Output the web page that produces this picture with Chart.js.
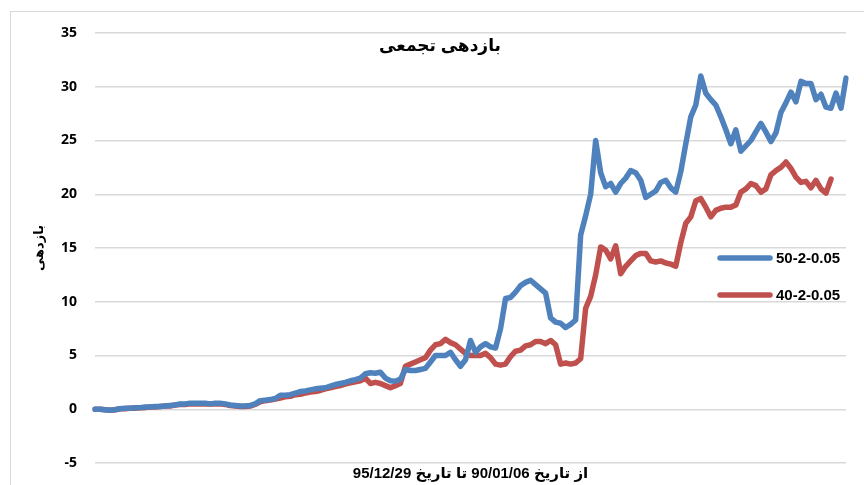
<!DOCTYPE html>
<html>
<head>
<meta charset="utf-8">
<script src="https://cdn.jsdelivr.net/npm/chart.js@4/dist/chart.umd.min.js"></script>
<style>
  body { margin: 0; background: #fff; }
  canvas { display: block; }
</style>
</head>
<body>
<canvas id="myChart" width="864" height="485"></canvas>
<script>
// cumulative return (one sample every ~5px)
var seriesNames = ['50-2-0.05', '40-2-0.05'];

var blueValues = [
  0, 0, -0.05, -0.1, -0.05, 0.05, 0.1, 0.1, 0.15, 0.15,
  0.2, 0.2, 0.25, 0.25, 0.3, 0.35, 0.4, 0.5, 0.5, 0.55,
  0.55, 0.55, 0.55, 0.5, 0.55, 0.55, 0.5, 0.4, 0.35, 0.3,
  0.3, 0.35, 0.5, 0.8, 0.85, 0.9, 1.0, 1.3, 1.3, 1.35,
  1.5, 1.65, 1.7, 1.8, 1.9, 1.95, 2.0, 2.15, 2.3, 2.4,
  2.5, 2.65, 2.75, 2.9, 3.3, 3.4, 3.35, 3.45, 2.9, 2.65,
  2.6, 2.8, 3.7, 3.6, 3.6, 3.7, 3.8, 4.4, 5.0, 5.0,
  5.0, 5.3, 4.6, 4.0, 4.6, 6.4, 5.3, 5.8, 6.1, 5.8,
  5.7, 7.5, 10.3, 10.4, 10.9, 11.5, 11.8, 12.0, 11.6, 11.2,
  10.8, 8.5, 8.1, 8.0, 7.6, 7.9, 8.3, 16.2, 18.0, 20.0,
  25.0, 22.0, 20.7, 21.0, 20.2, 21.0, 21.5, 22.2, 22.0, 21.3,
  19.7, 20.0, 20.3, 21.1, 21.3, 20.6, 20.2, 22.1, 24.7, 27.2,
  28.3, 31.0, 29.4, 28.8, 28.3, 27.2, 26.0, 24.7, 26.0, 24.0,
  24.5, 25.0, 25.8, 26.6, 25.8, 24.9, 25.7, 27.6, 28.5, 29.5,
  28.6, 30.5, 30.3, 30.3, 28.8, 29.3, 28.1, 28.0, 29.4, 28.0,
  30.8
];

var redValues = [
  0, 0, -0.05, -0.1, -0.05, 0.05, 0.05, 0.1, 0.1, 0.15,
  0.15, 0.2, 0.2, 0.25, 0.3, 0.3, 0.4, 0.45, 0.45, 0.5,
  0.5, 0.5, 0.5, 0.5, 0.5, 0.5, 0.45, 0.35, 0.3, 0.25,
  0.25, 0.3, 0.45, 0.7, 0.8, 0.85, 0.95, 1.05, 1.15, 1.2,
  1.35, 1.4, 1.5, 1.6, 1.65, 1.75, 1.9, 2.0, 2.1, 2.2,
  2.35, 2.45, 2.55, 2.65, 2.9, 2.4, 2.5, 2.4, 2.2, 2.0,
  2.2, 2.4, 4.0, 4.2, 4.4, 4.6, 4.8, 5.5, 6.0, 6.1,
  6.5, 6.2, 6.0, 5.6, 5.2, 5.0, 5.0, 5.0, 5.2, 4.8,
  4.2, 4.1, 4.2, 4.9, 5.4, 5.5, 5.9, 6.0, 6.3, 6.3,
  6.1, 6.4, 6.0, 4.2, 4.3, 4.2, 4.3, 4.7, 9.4, 10.5,
  12.5, 15.1, 14.8, 14.0, 15.2, 12.6, 13.3, 13.8, 14.3, 14.5,
  14.5, 13.8, 13.7, 13.8, 13.6, 13.5, 13.3, 15.5, 17.3, 17.9,
  19.4, 19.6, 18.8, 17.9, 18.5, 18.7, 18.8, 18.8, 19.0, 20.2,
  20.5, 21.0, 20.8, 20.2, 20.5, 21.8, 22.2, 22.5, 23.0, 22.4,
  21.6, 21.1, 21.2, 20.6, 21.3, 20.5, 20.1, 21.4, null, null,
  null
];

var yMin = -5;
var yMax = 35;
var yStep = 5;

var chartTitle = 'بازدهی تجمعی';
var yTitle = 'بازدهی';
var xTitle = 'از تاریخ 90/01/06 تا تاریخ 95/12/29';

// the x axis is just the trading days, no labels shown
var days = blueValues.map(function (v, i) { return i; });

var colors = ['#4F81BD', '#C0504D'];
var font = '"Liberation Sans", "DejaVu Sans", Arial, sans-serif';

// title, frame, x caption and legend sit on top of the plot, like the excel original
var overlay = {
  id: 'overlay',
  afterDraw: function (chart) {
    var ctx = chart.ctx;
    var area = chart.chartArea;
    ctx.save();
    ctx.strokeStyle = '#D9D9D9';
    ctx.lineWidth = 1;
    ctx.strokeRect(10.5, 11.5, 900, 520);

    ctx.fillStyle = '#000';
    ctx.font = 'bold 17px ' + font;
    ctx.textAlign = 'center';
    ctx.textBaseline = 'middle';
    ctx.fillText(chartTitle, 440, 46);

    ctx.font = 'bold 15px ' + font;
    ctx.fillText(xTitle, (area.left + area.right) / 2, 474);

    var ys = [258, 295];
    chart.data.datasets.forEach(function (ds, i) {
      ctx.strokeStyle = ds.borderColor;
      ctx.lineWidth = 5.5;
      ctx.lineCap = 'round';
      ctx.beginPath();
      ctx.moveTo(720, ys[i]);
      ctx.lineTo(770, ys[i]);
      ctx.stroke();
      ctx.fillStyle = '#000';
      ctx.font = 'bold 15px ' + font;
      ctx.textAlign = 'left';
      ctx.fillText(ds.label, 776, ys[i] + 1);
    });
    ctx.restore();
  }
};

var ctx = document.getElementById('myChart').getContext('2d');
var chart = new Chart(ctx, {
  type: 'line',
  data: {
    labels: days,
    datasets: [{
      label: seriesNames[0],
      data: blueValues,
      borderColor: colors[0],
      backgroundColor: colors[0],
      borderWidth: 5.5,
      pointRadius: 0,
      tension: 0,
      borderJoinStyle: 'round',
      borderCapStyle: 'round'
    }, {
      label: seriesNames[1],
      data: redValues,
      borderColor: colors[1],
      backgroundColor: colors[1],
      borderWidth: 5.5,
      pointRadius: 0,
      tension: 0,
      borderJoinStyle: 'round',
      borderCapStyle: 'round'
    }]
  },
  options: {
    responsive: false,
    animation: false,
    layout: { padding: { top: 33, right: 18, left: 0, bottom: 22 } },
    plugins: {
      legend: { display: false },
      title: { display: false },
      tooltip: { enabled: false }
    },
    scales: {
      x: {
        type: 'category',
        display: false,
        offset: false
      },
      y: {
        min: yMin,
        max: yMax,
        // invisible tick marks push the labels away from the plot
        grid: { color: '#D9D9D9', lineWidth: 1.5, drawTicks: true, tickLength: 18, tickColor: 'rgba(0,0,0,0)' },
        border: { display: false },
        ticks: {
          stepSize: yStep,
          padding: 0,
          color: '#000',
          font: { family: '"Open Sans", sans-serif', size: 14, weight: 'bold' }
        },
        title: {
          display: true,
          text: yTitle,
          color: '#000',
          font: { family: font, size: 13, weight: 'bold' },
          padding: { top: 32, bottom: 0 }
        },
        afterFit: function (scale) { scale.width = 95; }
      }
    }
  },
  plugins: [overlay]
});
</script>
</body>
</html>
